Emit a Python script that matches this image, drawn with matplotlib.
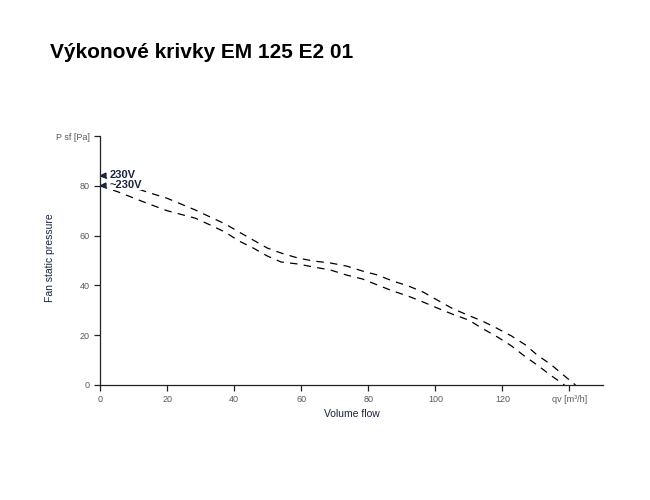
import matplotlib
matplotlib.use("Agg")
import matplotlib.pyplot as plt

plt.rcParams['font.family'] = ['Liberation Sans', 'DejaVu Sans']

# Data
qv_upper = [0, 14, 20, 28.4, 32.8, 37.3, 41.5, 45.7, 49.9, 54, 59, 63.6, 68.7, 73.4, 78.2,
            82.7, 87.2, 91.9, 96.4, 100.6, 105, 109.6, 114, 118.2, 122.7, 126.9, 130.4,
            134.3, 138.2, 141.8]
p_upper = [84, 77.5, 75, 70.3, 67.5, 64.7, 61.4, 58.2, 55, 53, 51, 49.8, 49, 47.8, 45.8,
           44.2, 41.8, 39.8, 37.3, 34.1, 30.8, 28.1, 25.7, 22.9, 19.7, 16.1, 12,
           8.4, 4, 0]
qv_lower = [0, 5.5, 14, 20, 28.4, 32.8, 37.3, 41.5, 45.7, 49.9, 54, 59, 63.6, 68.7, 73.4,
            78.2, 82.7, 87.2, 91.9, 96.4, 100.6, 105.4, 109.9, 114.3, 118.5, 122.7, 126.6,
            130.4, 134.3, 138.5]
p_lower = [80, 77.5, 73, 70, 67, 64.3, 61.4, 57.8, 55, 51.8, 49.4, 48.6, 47.4, 46.2, 44.2,
           42.6, 40.2, 37.8, 35.7, 33.3, 30.9, 28.3, 26.1, 22.5, 19.3, 15.7, 11.6,
           8, 4, 0]
series_labels = ["230V", "~230V"]
marker_values = [84.5, 80.5]

x_ticks = [0, 20, 40, 60, 80, 100, 120, 140]
x_ticklabels = ["0", "20", "40", "60", "80", "100", "120", "qv [m³/h]"]
y_ticks = [0, 20, 40, 60, 80, 100]
y_ticklabels = ["0", "20", "40", "60", "80", "P sf [Pa]"]

navy = "#1b2440"
grey = "#5a5a5a"

fig = plt.figure(figsize=(6.5, 5), dpi=100)
ax = fig.add_axes([100 / 650, 1 - 385 / 500, 503 / 650, 249 / 500])

ax.plot(qv_upper, p_upper, linestyle=(0, (6, 5)), color="black", linewidth=0.9)
ax.plot(qv_lower, p_lower, linestyle=(0, (6, 5)), color="black", linewidth=0.9)

# markers and labels at the y axis
for val, lab in zip(marker_values, series_labels):
    ax.plot([0.9], [val], marker="<", color=navy, markersize=3.5, clip_on=False, zorder=5)
    ax.text(2.8, val, lab, fontsize=8, fontweight="bold", color=navy, va="center", ha="left",
            bbox=dict(facecolor="white", edgecolor="none", pad=0.3), zorder=4)

ax.set_xlim(0, 150)
ax.set_ylim(0, 100)
ax.set_xticks(x_ticks)
ax.set_xticklabels(x_ticklabels)
ax.set_yticks(y_ticks)
ax.set_yticklabels(y_ticklabels)
ax.tick_params(axis="both", labelsize=6.5, labelcolor=grey, length=4, width=0.9, color="#222222")

for side in ["top", "right"]:
    ax.spines[side].set_visible(False)
for side in ["left", "bottom"]:
    ax.spines[side].set_color("#222222")
    ax.spines[side].set_linewidth(0.9)

ax.set_xlabel("Volume flow", fontsize=7.5, color=navy, labelpad=3)
ax.set_ylabel("Fan static pressure", fontsize=7.5, color=navy)
ax.yaxis.set_label_coords(-0.09, 0.51)

fig.text(50 / 650, 1 - 53 / 500, "Výkonové krivky EM 125 E2 01", fontsize=15,
         fontweight="bold", color="black", ha="left", va="center")

fig.savefig("out.png", dpi=100)
